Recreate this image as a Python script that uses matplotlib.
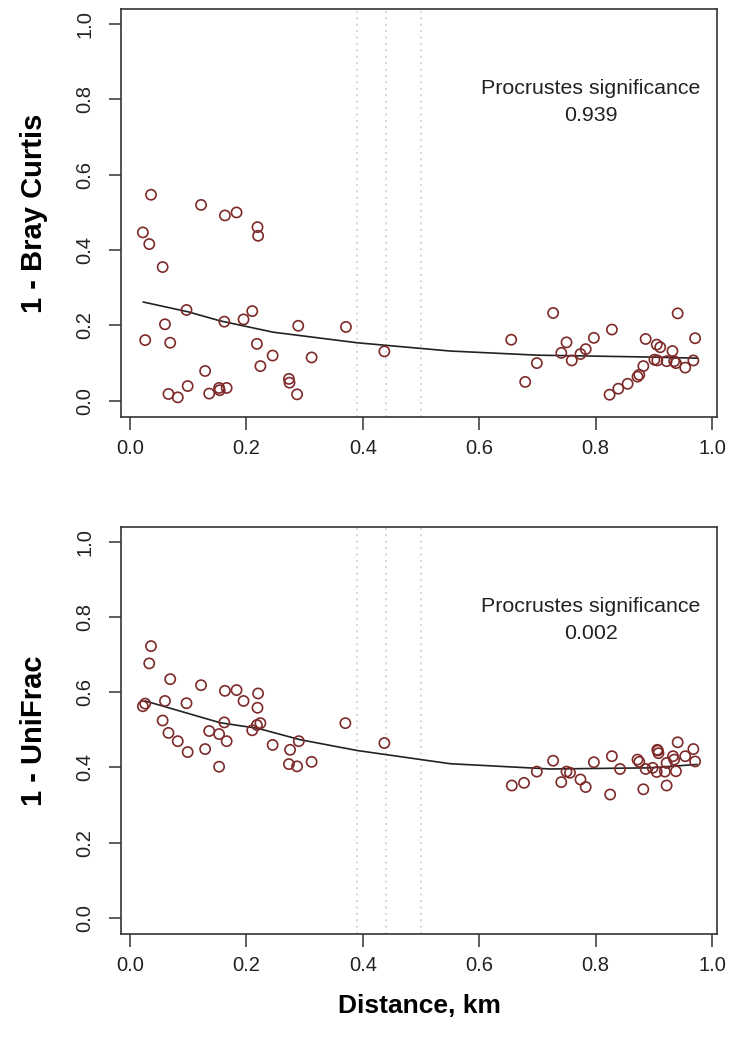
import matplotlib
matplotlib.use("Agg")
import matplotlib.pyplot as plt

plt.rcParams['font.family'] = ['Liberation Sans', 'DejaVu Sans']

# distance (km) vs 1 - Bray Curtis
bc_dist = [0.036, 0.122, 0.163, 0.183, 0.219, 0.220, 0.022, 0.033, 0.056, 0.097,
           0.060, 0.026, 0.069, 0.162, 0.195, 0.210, 0.289, 0.371, 0.218, 0.245,
           0.224, 0.312, 0.437, 0.129, 0.099, 0.066, 0.082, 0.136, 0.153, 0.154,
           0.166, 0.273, 0.274, 0.287,
           0.727, 0.941, 0.655, 0.828, 0.797, 0.750, 0.741, 0.759, 0.774, 0.783,
           0.699, 0.679, 0.886, 0.905, 0.911, 0.932, 0.971, 0.901, 0.906, 0.922,
           0.935, 0.938, 0.954, 0.968, 0.882, 0.875, 0.872, 0.855, 0.839, 0.824]
bc_sim = [0.547, 0.520, 0.492, 0.500, 0.461, 0.438, 0.447, 0.416, 0.355, 0.241,
          0.203, 0.161, 0.154, 0.210, 0.216, 0.238, 0.199, 0.196, 0.151, 0.120,
          0.092, 0.115, 0.131, 0.079, 0.039, 0.018, 0.009, 0.019, 0.034, 0.028,
          0.034, 0.058, 0.048, 0.017,
          0.233, 0.232, 0.162, 0.189, 0.167, 0.155, 0.127, 0.107, 0.124, 0.137,
          0.100, 0.050, 0.164, 0.149, 0.142, 0.132, 0.166, 0.109, 0.107, 0.105,
          0.105, 0.100, 0.088, 0.107, 0.092, 0.069, 0.064, 0.045, 0.032, 0.016]

# distance (km) vs 1 - UniFrac
uf_dist = [0.036, 0.033, 0.069, 0.122, 0.163, 0.183, 0.220, 0.195, 0.219, 0.060,
           0.097, 0.022, 0.026, 0.056, 0.066, 0.082, 0.099, 0.129, 0.136, 0.153,
           0.162, 0.166, 0.153, 0.210, 0.218, 0.224, 0.245, 0.275, 0.290, 0.273,
           0.287, 0.312, 0.370, 0.437,
           0.941, 0.906, 0.727, 0.828, 0.797, 0.699, 0.750, 0.756, 0.774, 0.783,
           0.741, 0.842, 0.656, 0.677, 0.825, 0.882, 0.872, 0.875, 0.886, 0.898,
           0.905, 0.907, 0.908, 0.922, 0.919, 0.922, 0.933, 0.935, 0.938, 0.954,
           0.968, 0.971]
uf_sim = [0.723, 0.677, 0.635, 0.619, 0.604, 0.606, 0.597, 0.577, 0.559, 0.577,
          0.571, 0.563, 0.570, 0.525, 0.492, 0.470, 0.441, 0.449, 0.497, 0.489,
          0.520, 0.470, 0.402, 0.499, 0.513, 0.518, 0.460, 0.447, 0.470, 0.409,
          0.403, 0.415, 0.518, 0.465,
          0.467, 0.447, 0.418, 0.430, 0.414, 0.389, 0.389, 0.386, 0.368, 0.348,
          0.361, 0.396, 0.352, 0.359, 0.328, 0.342, 0.421, 0.415, 0.396, 0.399,
          0.388, 0.445, 0.438, 0.412, 0.389, 0.352, 0.430, 0.421, 0.390, 0.430,
          0.449, 0.416]

# smoothed trend lines
bc_fit_x = [0.023, 0.100, 0.155, 0.246, 0.390, 0.550, 0.700, 0.893, 0.974]
bc_fit_y = [0.262, 0.236, 0.212, 0.182, 0.154, 0.132, 0.121, 0.116, 0.113]
uf_fit_x = [0.026, 0.155, 0.220, 0.292, 0.391, 0.550, 0.722, 0.893, 0.974]
uf_fit_y = [0.577, 0.519, 0.504, 0.474, 0.445, 0.410, 0.396, 0.399, 0.408]

vlines = [0.39, 0.44, 0.50]
ylabels = ['1 - Bray Curtis', '1 - UniFrac']
pvalues = ['0.939', '0.002']
ticks = [0.0, 0.2, 0.4, 0.6, 0.8, 1.0]

fig = plt.figure(figsize=(7.3, 10.44), dpi=100)
panels = [
    (fig.add_axes([0.1658, 0.601, 0.8164, 0.3903]), bc_dist, bc_sim, bc_fit_x, bc_fit_y),
    (fig.add_axes([0.1658, 0.1058, 0.8164, 0.3894]), uf_dist, uf_sim, uf_fit_x, uf_fit_y),
]

for i, (ax, x, y, fx, fy) in enumerate(panels):
    for v in vlines:
        ax.axvline(v, color='#c8c8c8', linestyle=(0, (1.2, 3)), linewidth=1.1, zorder=1)
    ax.scatter(x, y, s=54, facecolors='none', edgecolors='#7e2a2a', linewidths=1.2, zorder=3)
    ax.plot(fx, fy, color='#222222', linewidth=1.2, zorder=2)
    ax.set_xlim(-0.0155, 1.0086)
    ax.set_ylim(-0.042, 1.040)
    ax.set_xticks(ticks)
    ax.set_yticks(ticks)
    ax.set_xticklabels([f'{t:.1f}' for t in ticks])
    ax.set_yticklabels([f'{t:.1f}' for t in ticks], rotation=90, va='center')
    ax.tick_params(length=9, width=1.1, color='#333333', labelsize=14.5,
                   labelcolor='#222222')
    ax.tick_params(axis='x', pad=7)
    ax.tick_params(axis='y', pad=10)
    for sp in ax.spines.values():
        sp.set_color('#333333')
        sp.set_linewidth(1.2)
    ax.set_ylabel(ylabels[i], fontsize=21, fontweight='bold', labelpad=20)
    ax.text(0.792, 0.828, 'Procrustes significance', ha='center', va='center',
            fontsize=15.4, color='#222222')
    ax.text(0.792, 0.757, pvalues[i], ha='center', va='center',
            fontsize=15.4, color='#222222')

panels[1][0].set_xlabel('Distance, km', fontsize=19, fontweight='bold', labelpad=14)

fig.savefig('out.png', dpi=100)
